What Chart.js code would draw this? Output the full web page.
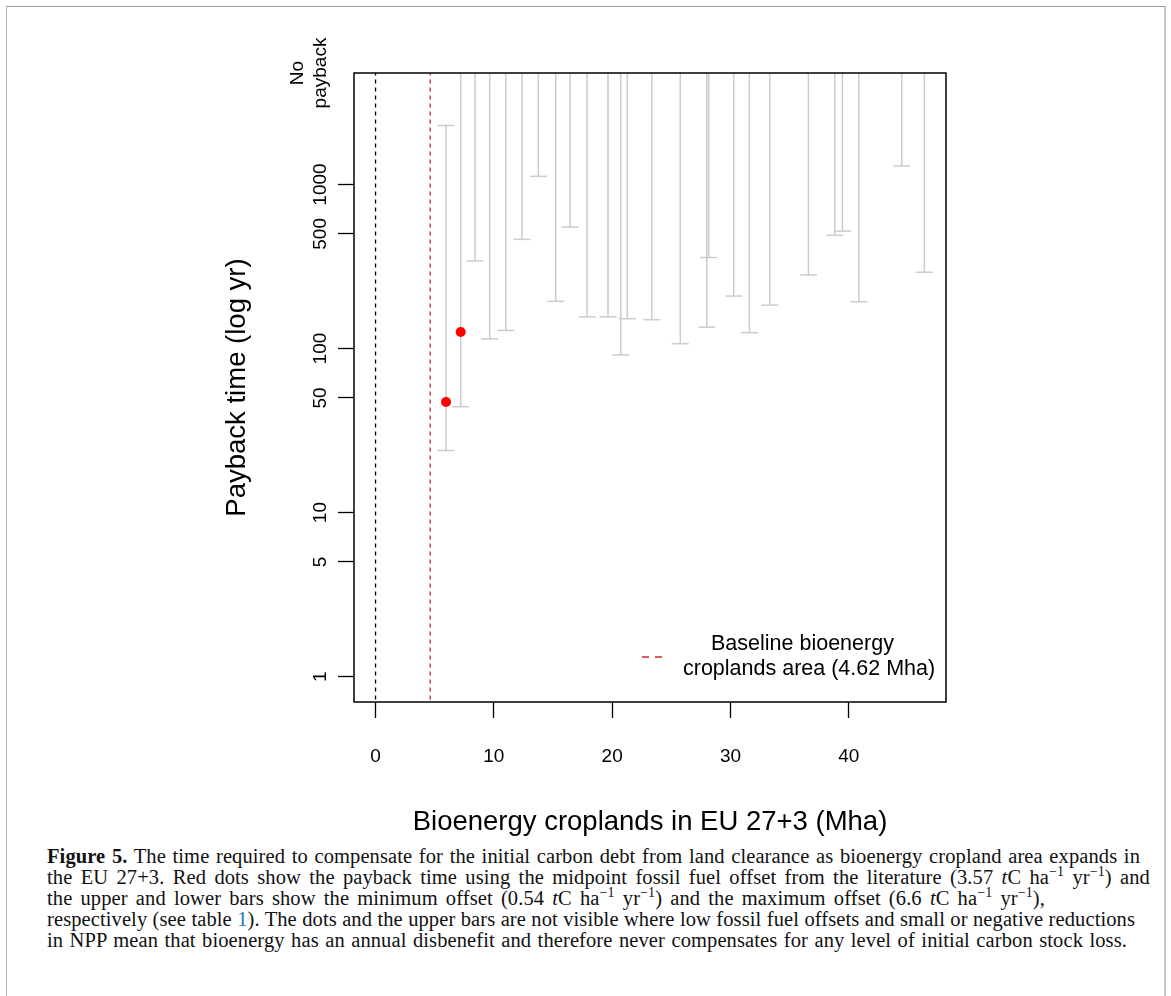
<!DOCTYPE html>
<html>
<head>
<meta charset="utf-8">
<script src="https://cdn.jsdelivr.net/npm/chart.js@4.4.0/dist/chart.umd.min.js"></script>
<style>
  body { margin: 0; background: #fff; }
  #wrap { position: relative; width: 1171px; height: 996px; overflow: hidden; }
  #frame { position: absolute; left: 6px; top: 6px; width: 1157px; height: 1100px;
    border-top: 1px solid #9a9a9a; border-left: 1px solid #b8b8b8; border-right: 2px solid #c8c8c8; }
  #myChart { position: absolute; left: 0; top: 0; }
  #caption { position: absolute; left: 47px; top: 846px; font-family: "Liberation Serif", "Times New Roman", serif;
    font-size: 20.5px; line-height: 21px; letter-spacing: 0.1px; color: #111; }
  #caption div { text-align: justify; text-align-last: justify; }
  #caption sup { font-size: 14px; line-height: 0; }
  #caption .link { color: #1f78b4; }
</style>
</head>
<body>
<div id="wrap">
  <div id="frame"></div>
  <canvas id="myChart" width="1171" height="845"></canvas>
  <div id="caption">
    <div style="width:1093px"><b>Figure 5.</b> The time required to compensate for the initial carbon debt from land clearance as bioenergy cropland area expands in</div>
    <div style="width:1103px">the EU 27+3. Red dots show the payback time using the midpoint fossil fuel offset from the literature (3.57 <i>t</i>C ha<sup>−1</sup> yr<sup>−1</sup>) and</div>
    <div style="width:998px">the upper and lower bars show the minimum offset (0.54 <i>t</i>C ha<sup>−1</sup> yr<sup>−1</sup>) and the maximum offset (6.6 <i>t</i>C ha<sup>−1</sup> yr<sup>−1</sup>),</div>
    <div style="width:1088px">respectively (see table <span class="link">1</span>). The dots and the upper bars are not visible where low fossil fuel offsets and small or negative reductions</div>
    <div style="width:1080px">in NPP mean that bioenergy has an annual disbenefit and therefore never compensates for any level of initial carbon stock loss.</div>
  </div>
</div>
<script>
const ctx = document.getElementById('myChart').getContext('2d');

// cropland area (Mha) of each step
const areaMha = [5.96, 7.20, 8.41, 9.65, 11.01, 12.38, 13.76, 15.23, 16.44, 17.88, 19.65, 20.73, 21.28,
  23.35, 25.76, 28.00, 28.17, 30.28, 31.60, 33.32, 36.59, 38.82, 39.46, 40.85, 44.48, 46.39];
// payback (yr) with the maximum offset -> lower bar end
const paybackMaxOffset = [23.9, 44.2, 342, 114.5, 129, 463, 1122, 194, 550, 156, 156, 91.5, 152,
  150, 107, 135, 359, 209, 125, 184, 281, 490, 520, 193, 1298, 292];
// payback (yr) with the minimum offset -> upper bar end, null = no payback
const paybackMinOffset = [2291, null, null, null, null, null, null, null, null, null, null, null, null,
  null, null, null, null, null, null, null, null, null, null, null, null, null];
// payback (yr) with the midpoint offset -> red dots, null = no payback
const paybackMidOffset = [47.2, 126, null, null, null, null, null, null, null, null, null, null, null,
  null, null, null, null, null, null, null, null, null, null, null, null, null];

const baselineMha = 4.62;
const yTickValues = [1, 5, 10, 50, 100, 500, 1000];
const xTickValues = [0, 10, 20, 30, 40];

const Y_MIN = 0.725;
const Y_MAX = 4786;   // "No payback" row
const X_MIN = -1.82;
const X_MAX = 48.22;

const barColor = '#cccccc';
const baselineColor = '#c62a2a';

Chart.defaults.font.family = '"Liberation Sans", Arial, sans-serif';
Chart.defaults.color = '#000';

// error bars as one broken line
const barPoints = [];
areaMha.forEach((x, i) => {
  barPoints.push({ x, y: paybackMaxOffset[i] });
  barPoints.push({ x, y: paybackMinOffset[i] === null ? Y_MAX : paybackMinOffset[i] });
  barPoints.push({ x, y: null });
});

const capPoints = [];
areaMha.forEach((x, i) => {
  capPoints.push({ x, y: paybackMaxOffset[i] });
  if (paybackMinOffset[i] !== null) capPoints.push({ x, y: paybackMinOffset[i] });
});

const dotPoints = [];
areaMha.forEach((x, i) => {
  if (paybackMidOffset[i] !== null) dotPoints.push({ x, y: paybackMidOffset[i] });
});

// box round the plot + legend
const framePlugin = {
  id: 'frame',
  afterDraw(chart) {
    const c = chart.ctx;
    const a = chart.chartArea;
    c.save();
    c.strokeStyle = '#000';
    c.lineWidth = 1.5;
    c.strokeRect(a.left, a.top, a.right - a.left, a.bottom - a.top);

    c.strokeStyle = baselineColor;
    c.lineWidth = 1.5;
    c.setLineDash([7, 6]);
    c.beginPath();
    c.moveTo(a.right - 304, a.bottom - 45);
    c.lineTo(a.right - 281, a.bottom - 45);
    c.stroke();
    c.setLineDash([]);

    c.fillStyle = '#000';
    c.font = '21.5px "Liberation Sans", Arial, sans-serif';
    c.textBaseline = 'middle';
    c.textAlign = 'left';
    c.fillText('Baseline bioenergy', a.right - 235, a.bottom - 58);
    c.fillText('croplands area (' + baselineMha + ' Mha)', a.right - 263, a.bottom - 33);
    c.restore();
  }
};

const myChart = new Chart(ctx, {
  type: 'scatter',
  data: {
    datasets: [
      {
        label: 'midpoint offset',
        data: dotPoints,
        pointRadius: 5,
        pointBackgroundColor: '#ff0000',
        pointBorderWidth: 0
      },
      {
        label: 'caps',
        data: capPoints,
        pointStyle: 'line',
        pointRadius: 8.5,
        pointBorderColor: barColor,
        pointBorderWidth: 1.5
      },
      {
        label: 'bars',
        data: barPoints,
        showLine: true,
        spanGaps: false,
        borderColor: barColor,
        borderWidth: 1.5,
        pointRadius: 0
      },
      {
        label: 'baseline',
        data: [{ x: baselineMha, y: Y_MIN }, { x: baselineMha, y: Y_MAX }],
        showLine: true,
        borderColor: baselineColor,
        borderWidth: 1.3,
        borderDash: [4, 4],
        pointRadius: 0
      },
      {
        label: 'zero',
        data: [{ x: 0, y: Y_MIN }, { x: 0, y: Y_MAX }],
        showLine: true,
        borderColor: '#000',
        borderWidth: 1.3,
        borderDash: [4, 4],
        pointRadius: 0
      }
    ]
  },
  plugins: [framePlugin],
  options: {
    responsive: false,
    animation: false,
    layout: { padding: { left: 210, top: 73, right: 225, bottom: 0 } },
    plugins: {
      legend: { display: false },
      tooltip: { enabled: false }
    },
    scales: {
      x: {
        type: 'linear',
        min: X_MIN,
        max: X_MAX,
        afterBuildTicks: s => { s.ticks = xTickValues.map(v => ({ value: v })); },
        afterFit: s => { s.height = 143; },
        border: { display: false },
        grid: { drawOnChartArea: false, tickLength: 16, tickColor: '#000', tickWidth: 1.3 },
        ticks: { font: { size: 19 }, padding: 27, maxRotation: 0, autoSkip: false },
        title: {
          display: true,
          text: 'Bioenergy croplands in EU 27+3 (Mha)',
          font: { size: 27.5 },
          padding: { top: 0, bottom: 6.5 }
        }
      },
      y: {
        type: 'logarithmic',
        min: Y_MIN,
        max: Y_MAX,
        afterBuildTicks: s => { s.ticks = yTickValues.concat([Y_MAX]).map(v => ({ value: v })); },
        afterFit: s => { s.width = 144; },
        border: { display: false },
        grid: {
          drawOnChartArea: false,
          tickLength: 16,
          tickWidth: 1.3,
          tickColor: c => (c.tick && c.tick.value === Y_MAX) ? 'rgba(0,0,0,0)' : '#000'
        },
        ticks: {
          font: { size: 19 },
          minRotation: 90,
          maxRotation: 90,
          crossAlign: 'center',
          padding: -18.4,
          autoSkip: false,
          callback: v => v === Y_MAX ? ['No', 'payback', ''] : String(v)
        },
        title: {
          display: true,
          text: 'Payback time (log yr)',
          font: { size: 27.5 },
          padding: { top: 10.5, bottom: 0 }
        }
      }
    }
  }
});
</script>
</body>
</html>
